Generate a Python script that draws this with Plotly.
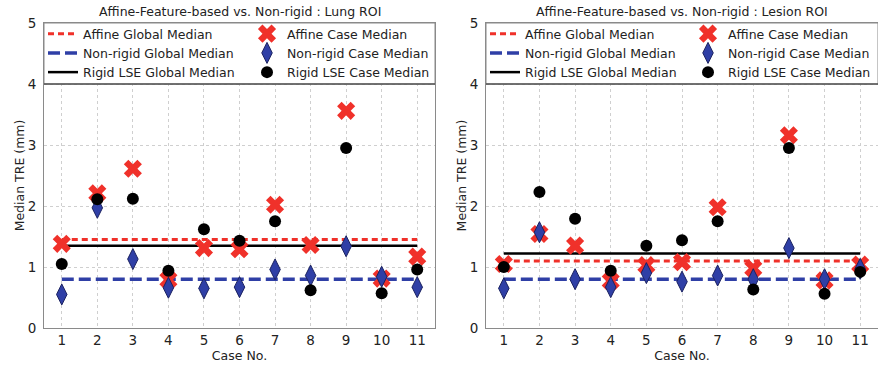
import plotly.graph_objects as go

cases = [1, 2, 3, 4, 5, 6, 7, 8, 9, 10, 11]

# Lung ROI
lung_affine = [1.38, 2.21, 2.61, 0.79, 1.31, 1.29, 2.02, 1.36, 3.56, 0.81, 1.17]
lung_nonrigid = [0.55, 1.97, 1.13, 0.66, 0.65, 0.67, 0.96, 0.86, 1.34, 0.84, 0.67]
lung_rigid = [1.05, 2.11, 2.12, 0.94, 1.62, 1.43, 1.75, 0.62, 2.95, 0.57, 0.96]
lung_global = {"affine": 1.45, "nonrigid": 0.80, "rigid": 1.35}

# Lesion ROI
les_affine = [1.05, 1.54, 1.35, 0.77, 1.03, 1.08, 1.98, 0.98, 3.16, 0.78, 1.04]
les_nonrigid = [0.65, 1.57, 0.80, 0.67, 0.90, 0.76, 0.86, 0.80, 1.31, 0.80, 0.97]
les_rigid = [1.00, 2.23, 1.79, 0.94, 1.35, 1.44, 1.75, 0.63, 2.95, 0.56, 0.92]
les_global = {"affine": 1.10, "nonrigid": 0.80, "rigid": 1.22}

titles = ["Affine-Feature-based vs. Non-rigid : Lung ROI",
          "Affine-Feature-based vs. Non-rigid : Lesion ROI"]
yticks = [0, 1, 2, 3, 4, 5]

W, H = 878, 371
ML, MR, MT, MB = 44, 0, 23, 43
PW = W - ML - MR
PH = H - MT - MB
FONT = "DejaVu Sans"

RED = "#f0312a"
BLUE = "#2f3fa6"
BLACK = "#000000"

fig = go.Figure()

panels = [
    (lung_affine, lung_nonrigid, lung_rigid, lung_global, "x", "y", "legend", "legend2"),
    (les_affine, les_nonrigid, les_rigid, les_global, "x2", "y2", "legend3", "legend4"),
]

for aff, nr, rg, gl, xa, ya, lg1, lg2 in panels:
    xs = [cases[0], cases[-1]]
    fig.add_trace(go.Scatter(x=xs, y=[gl["affine"]] * 2, mode="lines", name="Affine Global Median",
                             line=dict(color=RED, width=3, dash="6px,4px"), xaxis=xa, yaxis=ya, legend=lg1))
    fig.add_trace(go.Scatter(x=xs, y=[gl["nonrigid"]] * 2, mode="lines", name="Non-rigid Global Median",
                             line=dict(color=BLUE, width=3.5, dash="12px,5px"), xaxis=xa, yaxis=ya, legend=lg1))
    fig.add_trace(go.Scatter(x=xs, y=[gl["rigid"]] * 2, mode="lines", name="Rigid LSE Global Median",
                             line=dict(color=BLACK, width=2.5), xaxis=xa, yaxis=ya, legend=lg1))
    fig.add_trace(go.Scatter(x=cases, y=aff, mode="markers", name="Affine Case Median",
                             marker=dict(symbol="x", size=16, color=RED, line=dict(width=0)),
                             xaxis=xa, yaxis=ya, legend=lg2))
    fig.add_trace(go.Scatter(x=cases, y=nr, mode="markers", name="Non-rigid Case Median",
                             marker=dict(symbol="diamond-tall", size=15, color=BLUE,
                                         line=dict(width=1, color="#1b2260")),
                             xaxis=xa, yaxis=ya, legend=lg2))
    fig.add_trace(go.Scatter(x=cases, y=rg, mode="markers", name="Rigid LSE Case Median",
                             marker=dict(symbol="circle", size=12, color=BLACK),
                             xaxis=xa, yaxis=ya, legend=lg2))

dom1 = [0, (435 - ML) / PW]
dom2 = [(486 - ML) / PW, 1.0]

axis_common = dict(showline=True, mirror=True, linecolor="#8a8a8a", linewidth=1,
                   showgrid=True, gridcolor="#cfcfcf", griddash="dot", gridwidth=1,
                   zeroline=False, ticks="", tickfont=dict(size=13.5, color="#222", family=FONT))

layout = dict(
    width=W, height=H,
    margin=dict(l=ML, r=MR, t=MT, b=MB, autoexpand=False),
    paper_bgcolor="white", plot_bgcolor="white",
    font=dict(family=FONT, color="#222"),
    showlegend=True,
    xaxis=dict(domain=dom1, range=[0.5, 11.5], tickvals=cases, anchor="y",
               title=dict(text="Case No.", font=dict(size=12.5), standoff=4), **axis_common),
    yaxis=dict(domain=[0, 1], range=[0, 5], tickvals=yticks, anchor="x", ticklabelstandoff=4,
               title=dict(text="Median TRE (mm)", font=dict(size=12.5), standoff=0), **axis_common),
    xaxis2=dict(domain=dom2, range=[0.5, 11.5], tickvals=cases, anchor="y2",
                title=dict(text="Case No.", font=dict(size=12.5), standoff=4), **axis_common),
    yaxis2=dict(domain=[0, 1], range=[0, 5], tickvals=yticks, anchor="x2", ticklabelstandoff=4,
                title=dict(text="Median TRE (mm)", font=dict(size=12.5), standoff=0), **axis_common),
)

leg_common = dict(xref="paper", yref="paper", xanchor="left", yanchor="top",
                  bgcolor="rgba(0,0,0,0)", borderwidth=0, font=dict(size=12.5, family=FONT, color="#222"),
                  orientation="v", itemclick=False, itemdoubleclick=False, tracegroupgap=0)
leg_pos = {"legend": 43, "legend2": 247, "legend3": 485, "legend4": 688}
for k, px in leg_pos.items():
    layout[k] = dict(x=(px - ML) / PW, y=1 - (19 - MT) / PH, **leg_common)

fig.update_layout(**layout)

# legend frame (white box covering the top band of each panel)
for xr, yr in [("x domain", "y"), ("x2 domain", "y2")]:
    fig.add_shape(type="rect", xref=xr, yref=yr, x0=0, x1=1, y0=yticks[-2], y1=yticks[-1],
                  fillcolor="white", line=dict(color="#8a8a8a", width=1), layer="above")
    fig.add_shape(type="line", xref=xr, yref=yr, x0=0, x1=1, y0=yticks[-2], y1=yticks[-2],
                  line=dict(color="#555", width=1.5), layer="above")

# panel titles
for i, (t, xr) in enumerate(zip(titles, ["x domain", "x2 domain"])):
    fig.add_annotation(text=t, xref=xr, yref="paper", x=0.5, y=1, yanchor="bottom", yshift=2,
                       showarrow=False, font=dict(size=12.5, family=FONT, color="#222"))

fig.write_html("out.html", config={"displayModeBar": False},
               post_script="document.body.style.margin='0px';document.body.style.overflow='hidden';")
